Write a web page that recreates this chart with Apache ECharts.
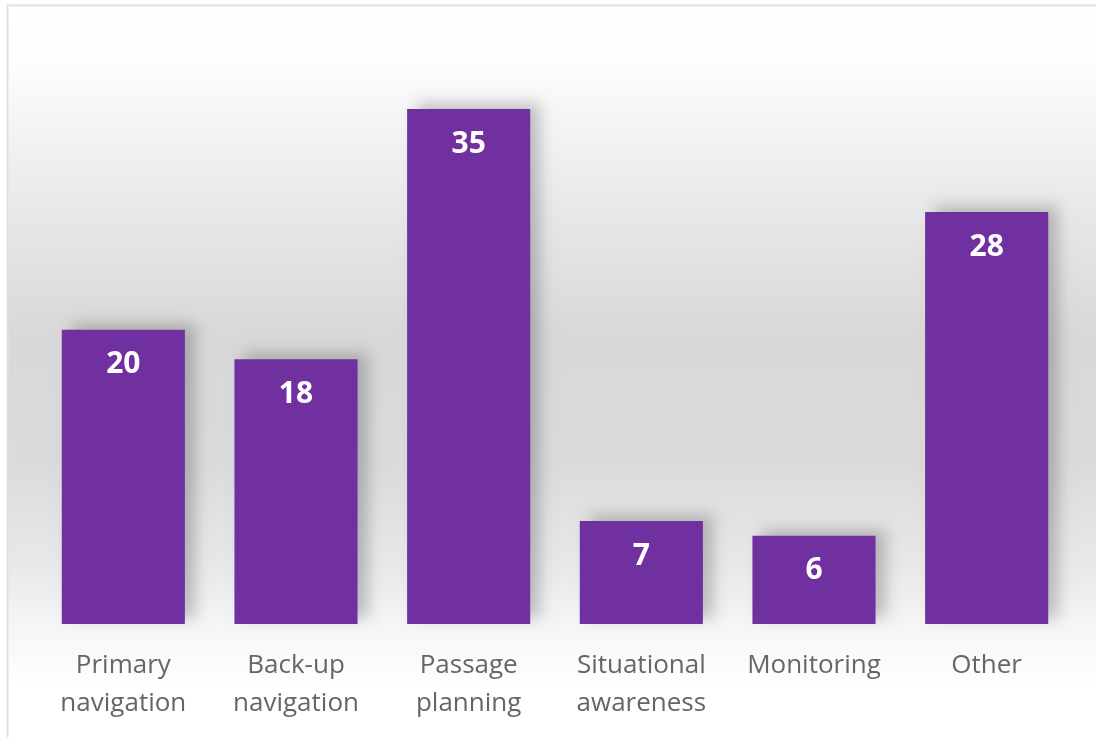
<!DOCTYPE html>
<html>
<head>
<meta charset="utf-8">
<script src="https://cdn.jsdelivr.net/npm/echarts@6/dist/echarts.min.js"></script>
<style>
html,body{margin:0;padding:0;background:#fff;}
#chart{width:1096px;height:737px;}
</style>
</head>
<body>
<div id="chart"></div>
<script>
const categories = ['Primary\nnavigation', 'Back-up\nnavigation', 'Passage\nplanning', 'Situational\nawareness', 'Monitoring', 'Other'];
const values = [20, 18, 35, 7, 6, 28];

const chart = echarts.init(document.getElementById('chart'));
chart.setOption({
  backgroundColor: '#ffffff',
  animation: false,
  graphic: [{
    type: 'rect',
    z: -10,
    silent: true,
    shape: { x: 7.5, y: 5.5, width: 1100, height: 740 },
    style: {
      stroke: '#e2e2e2',
      lineWidth: 2,
      fill: {
        type: 'linear', x: 0, y: 0, x2: 0, y2: 1,
        colorStops: [
          { offset: 0, color: '#ffffff' },
          { offset: 0.08, color: '#fdfdfd' },
          { offset: 0.25, color: '#ebebeb' },
          { offset: 0.45, color: '#d8d8d8' },
          { offset: 0.62, color: '#dbdbdb' },
          { offset: 0.76, color: '#e9e9e9' },
          { offset: 0.84, color: '#f6f6f6' },
          { offset: 0.92, color: '#ffffff' },
          { offset: 1, color: '#ffffff' }
        ]
      }
    }
  }],
  grid: { left: 37, right: 23, top: 109, bottom: 113, containLabel: false },
  xAxis: {
    type: 'category',
    data: categories,
    axisLine: { show: false },
    axisTick: { show: false },
    axisLabel: {
      color: '#666666',
      fontFamily: 'Open Sans',
      fontSize: 26,
      lineHeight: 38,
      margin: 23,
      interval: 0
    }
  },
  yAxis: {
    type: 'value',
    min: 0,
    max: 35,
    show: false,
    splitLine: { show: false }
  },
  series: [{
    type: 'bar',
    data: values,
    barCategoryGap: '28.7%',
    itemStyle: {
      color: '#7030a0',
      shadowColor: 'rgba(0,0,0,0.22)',
      shadowBlur: 14,
      shadowOffsetX: 10,
      shadowOffsetY: -6
    },
    label: {
      show: true,
      position: 'insideTop',
      distance: 20,
      color: '#ffffff',
      fontFamily: 'Open Sans',
      fontWeight: 'bold',
      fontSize: 30
    }
  }]
});
</script>
</body>
</html>
